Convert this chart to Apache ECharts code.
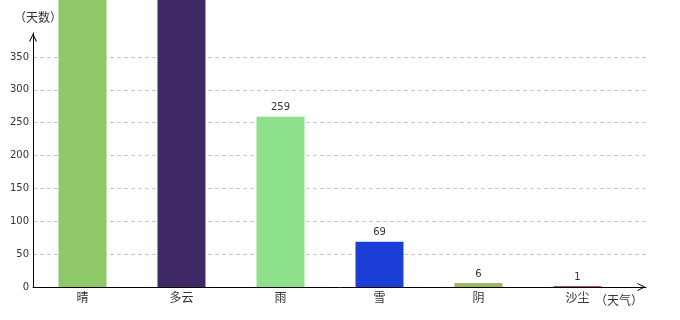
<!DOCTYPE html>
<html><head><meta charset="utf-8">
<script src="https://cdn.jsdelivr.net/npm/echarts@6/dist/echarts.min.js"></script>
<style>html,body{margin:0;padding:0;background:#fff}#c{width:680px;height:320px}</style>
</head><body><div id="c"></div>
<script>
const categories = ['晴', '多云', '雨', '雪', '阴', '沙尘'];
const days = [468, 497, 259, 69, 6, 1];
const colors = ['#8fc866', '#3e2964', '#8ce08a', '#1a3ed6', '#9cbc58', '#8e1f45'];
const yTicks = [0, 50, 100, 150, 200, 250, 300, 350];

const FONT = '"DejaVu Sans", "Noto Sans CJK SC", sans-serif';
const CJK = '"Noto Sans CJK SC", sans-serif';
const arrow = 'path://M0,10 L5,0 L10,10 L8.6,10 L5,2.6 L1.4,10 Z';
const chart = echarts.init(document.getElementById('c'));
chart.setOption({
  animation: false,
  grid: [
    {left: 33, right: 34, top: 57, bottom: 33},
    {left: 33, width: 594, top: 33, bottom: 33}
  ],
  xAxis: [
    {gridIndex: 0, type: 'category', data: [''],
     axisLine: {show: true, lineStyle: {color: '#000', width: 1}, symbol: ['none', arrow], symbolSize: [8, 9], symbolOffset: [0, -4.5]},
     axisTick: {show: false}, axisLabel: {show: false},
     name: '（天气）', nameLocation: 'end', nameGap: -3,
     nameTextStyle: {align: 'right', verticalAlign: 'top', padding: [7, 0, 0, 0], fontSize: 12, color: '#333', fontFamily: CJK}},
    {gridIndex: 1, type: 'category', data: categories,
     axisLine: {show: false}, axisTick: {show: false},
     axisLabel: {fontSize: 12, color: '#333', margin: 4, fontFamily: CJK}}
  ],
  yAxis: [
    {gridIndex: 0, type: 'value', min: yTicks[0], max: yTicks[yTicks.length - 1], interval: 50,
     axisLine: {show: false}, axisTick: {show: false},
     axisLabel: {fontSize: 10, color: '#333', margin: 4, fontFamily: FONT},
     splitLine: {show: true, lineStyle: {type: [4, 3], color: '#c8c8c8', width: 1}}},
    {gridIndex: 1, type: 'value', min: 0, max: 386.5,
     axisLine: {show: true, lineStyle: {color: '#000', width: 1}, symbol: ['none', arrow], symbolSize: [8, 9], symbolOffset: [0, -4.5]},
     axisTick: {show: false}, axisLabel: {show: false}, splitLine: {show: false},
     name: '（天数）', nameLocation: 'end', nameGap: 10,
     nameTextStyle: {align: 'center', fontSize: 12, color: '#333', padding: [0, 0, 0, 10], fontFamily: CJK}}
  ],
  series: [{
    type: 'bar', xAxisIndex: 1, yAxisIndex: 1, clip: false, barWidth: 48,
    data: days.map((v, i) => ({value: v, itemStyle: {color: colors[i]}})),
    label: {show: true, position: 'top', distance: 4, fontSize: 10, color: '#333', fontFamily: FONT}
  }]
});
</script></body></html>
